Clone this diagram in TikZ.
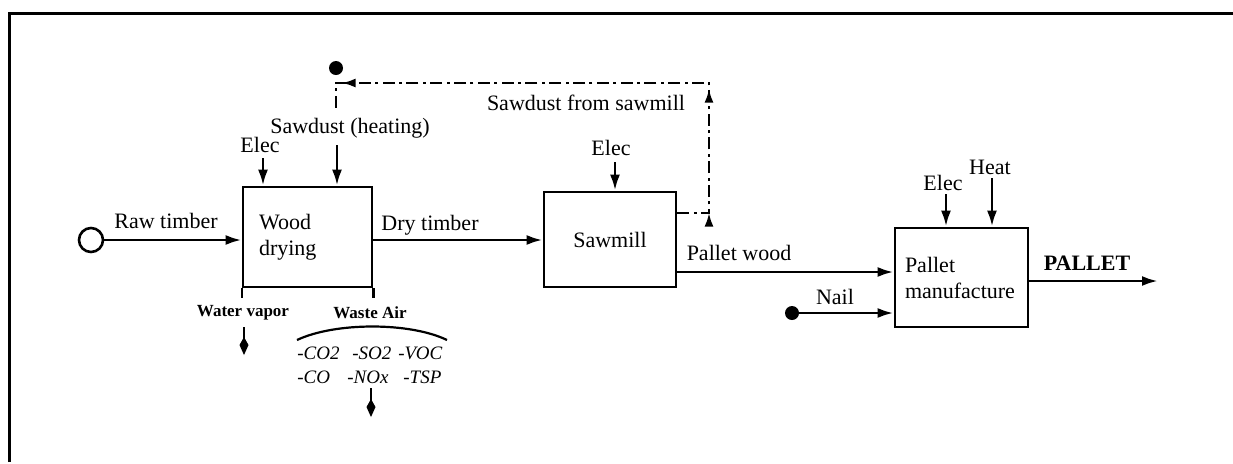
\documentclass[tikz,border=0pt]{standalone}
\usepackage{fontspec}
\setmainfont{Liberation Serif}
\usetikzlibrary{arrows.meta, positioning, decorations.markings}

\begin{document}
\begin{tikzpicture}[x=0.5pt, y=-0.5pt,
  every node/.style={font=\fontsize{11}{13}\selectfont},
  unit/.style={draw, line width=1.4pt, inner ysep=0pt},
  flow/.style={line width=1.4pt, -{Latex[length=8pt,width=5pt]}},
  smallflow/.style={line width=1.2pt, -{Kite[length=9pt,width=4.5pt,inset=4pt]}},
  recycle/.style={line width=1.3pt, dash pattern=on 6pt off 2.2pt on 1.5pt off 2.2pt},
  note/.style={font=\fontsize{8.5}{10}\selectfont\bfseries},
  gas/.style={font=\fontsize{9.5}{11}\selectfont\itshape, anchor=base west, inner sep=0pt}]

\useasboundingbox (0,0) rectangle (1233,463);

% frame (top and left only)
\draw[line width=1.5pt] (9,462) -- (9,13) -- (1233,13);

% Process units
\node[unit, text width=48.5pt, inner xsep=8pt, minimum height=50pt, align=left]
  (dry) at (307.5,237) {Wood\\drying\\[4pt]};
\node[unit, minimum width=66pt, minimum height=47.5pt, inner xsep=0pt]
  (saw) at (610,239.5) {Sawmill};
\node[unit, text width=56.5pt, inner xsep=5pt, minimum height=49.5pt, align=left]
  (pal) at (961.5,277.5) {Pallet\\manufacture};

% Sources
\node[circle, draw, line width=1.3pt, minimum size=12pt, inner sep=0pt] (raw) at (91,240) {};
\node[circle, fill, minimum size=7pt, inner sep=0pt] (sdot) at (336,68) {};
\node[circle, fill, minimum size=7pt, inner sep=0pt] (nail) at (792,313) {};

% Labels
\node (rawlab) at (166,221) {Raw timber};
\node (elec1) at (260,145) {Elec};
\node (sawdh) at (350,128) {Sawdust (heating)};
\node (drylab) at (430,225) {Dry timber};
\node (sfs) at (586,103) {Sawdust from sawmill};
\node (elec2) at (611,148) {Elec};
\node (pwlab) at (739,253) {Pallet wood};
\node (naillab) at (835,297) {Nail};
\node (elec3) at (943,183) {Elec};
\node (heat) at (990,167) {Heat};
\node[font=\fontsize{11}{13}\selectfont\bfseries] (pallab) at (1087,263) {PALLET};
\node[note] (wvlab) at (243,313) {Water vapor};
\node[note] (walab) at (370,313) {Waste Air};

% Emissions
\node[gas] (co2) at (297,359) {-CO2};
\node[gas] (so2) at (352,359) {-SO2};
\node[gas] (voc) at (398,359) {-VOC};
\node[gas] (co) at (297,383) {-CO};
\node[gas] (nox) at (347,383) {-NOx};
\node[gas] (tsp) at (403,383) {-TSP};

% Main flows
\draw[flow] (raw.east) -- (raw.east -| dry.west);
\draw[flow] (dry.east |- raw) -- (saw.west |- raw);
\draw[flow] ([yshift=-16.25pt]saw.east) coordinate (pwo) -- (pwo -| pal.west);
\draw[flow] (nail) -- (nail -| pal.west);
\coordinate (out) at (1158,281);
\draw[flow] (pal.east |- out) -- (out);

% Inputs from above
\coordinate (e1) at (263,158);
\coordinate (sh) at (337,145);
\coordinate (e2) at (615,162);
\coordinate (e3) at (946,194);
\coordinate (h3) at (992,178);
\draw[flow] (e1) -- (e1 |- dry.north);
\draw[flow] (sh) -- (sh |- dry.north);
\draw[flow] (e2) -- (e2 |- saw.north);
\draw[flow] (e3) -- (e3 |- pal.north);
\draw[flow] (h3) -- (h3 |- pal.north);

% Sawdust recycle loop
\coordinate (c2) at (709,83);
\coordinate (c3) at (336,83);
\coordinate (c4) at (336,112);
\draw[recycle, postaction={decorate}, decoration={markings,
    mark=at position 16pt with {\arrow{Latex[length=7pt,width=4.5pt]}},
    mark=at position 78pt with {\arrow{Latex[length=7pt,width=4.5pt]}},
    mark=at position 264.5pt with {\arrow{Latex[length=7pt,width=4.5pt]}}}]
  ([yshift=13.25pt]saw.east) coordinate (sdo) -- (sdo -| c2) -- (c2) -- (c3) -- (c4);

% Outputs below wood drying
\draw[line width=1.1pt] (dry.south west) -- ++(0,10);
\draw[line width=1.1pt] (dry.south east) -- ++(0,10);
\coordinate (wv) at (244,327);
\coordinate (wa) at (371,388);
\draw[smallflow] (wv) -- ++(0,28);
\draw[smallflow] (wa) -- ++(0,29);
\draw[line width=1.1pt] (297,340) .. controls (335,322) and (410,322) .. (447,340);

\end{tikzpicture}
\end{document}
